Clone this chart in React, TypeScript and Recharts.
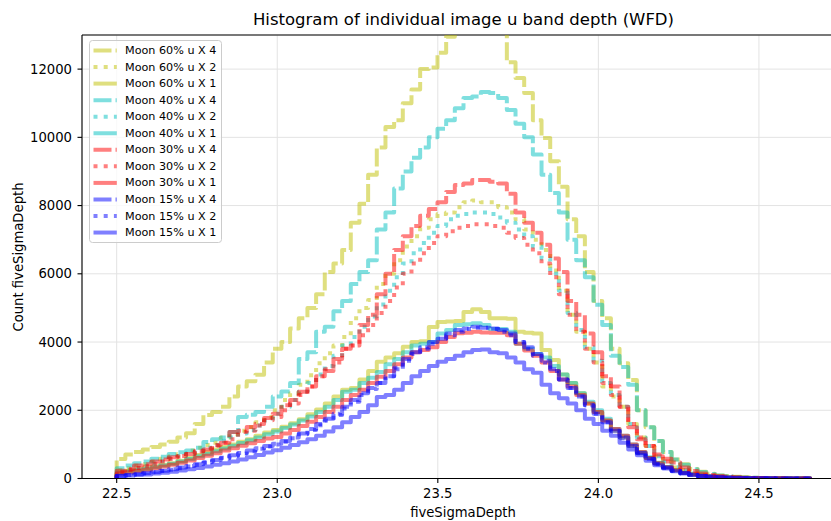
import React from 'react';
import { LineChart, Line, XAxis, YAxis, CartesianGrid, Legend, ReferenceLine } from 'recharts';

// Histogram bins (uniform)
const BIN_START = 22.5;
const BIN_WIDTH = 0.027;
const BIN_COUNT = 80;

const X_TICKS = [22.5, 23.0, 23.5, 24.0, 24.5];
const Y_TICKS = [0, 2000, 4000, 6000, 8000, 10000, 12000];

const MOON_60_X4 = [570, 700, 780, 850, 920, 1000, 1080, 1200, 1330, 1600, 1860, 1950, 2100, 2400, 2700, 2850, 3040, 3400, 3800, 4000, 4400, 4700, 5000, 5400, 6050, 6300, 6700, 7500, 8050, 8900, 9700, 10300, 10500, 11000, 11400, 12000, 12050, 12480, 12950, 13100, 13200, 13250, 13250, 13200, 13100, 12200, 11740, 11300, 10500, 9980, 9300, 8550, 7600, 7100, 6050, 5200, 4700, 3800, 3380, 2890, 2000, 1500, 1100, 780, 560, 420, 280, 200, 140, 90, 70, 50, 35, 25, 18, 12, 8, 5, 3, 1];
const MOON_60_X2 = [250, 300, 380, 420, 500, 580, 650, 720, 820, 900, 980, 1050, 1200, 1300, 1400, 1500, 1650, 1800, 2000, 2300, 2500, 2750, 3030, 3380, 3670, 3900, 4150, 4700, 5000, 5230, 5700, 6000, 6400, 6800, 7100, 7350, 7600, 7750, 7800, 7950, 8100, 8150, 8100, 8100, 7950, 7800, 7600, 7300, 7000, 6700, 6100, 5500, 4800, 4300, 3800, 3400, 2700, 2400, 2100, 1600, 1200, 950, 650, 500, 320, 250, 150, 110, 80, 55, 40, 30, 20, 15, 10, 7, 5, 3, 2, 1];
const MOON_60_X1 = [180, 230, 260, 300, 350, 400, 450, 520, 600, 690, 760, 850, 920, 1000, 1080, 1150, 1250, 1350, 1420, 1520, 1620, 1740, 1880, 2020, 2200, 2400, 2600, 2650, 2900, 3150, 3420, 3550, 3670, 3860, 4000, 4020, 4440, 4590, 4600, 4620, 4880, 4960, 4880, 4700, 4700, 4680, 4300, 4270, 4250, 3770, 3470, 3050, 2800, 2500, 2200, 1950, 1700, 1400, 1200, 950, 750, 600, 450, 330, 240, 170, 120, 80, 55, 40, 28, 20, 14, 10, 7, 5, 3, 2, 1, 1];
const MOON_40_X4 = [300, 380, 450, 500, 580, 640, 720, 770, 820, 900, 1070, 1150, 1200, 1360, 1800, 1870, 1950, 2100, 2400, 2550, 2800, 3500, 3700, 4300, 4450, 4900, 5200, 5700, 6050, 6400, 7300, 7800, 8500, 9000, 9400, 9700, 10000, 10250, 10500, 10850, 11150, 11200, 11330, 11300, 11150, 10800, 10400, 10000, 9500, 8900, 8370, 7800, 7000, 6400, 5900, 5090, 4500, 3600, 3270, 2750, 2000, 1500, 1100, 780, 560, 400, 270, 190, 130, 85, 65, 45, 30, 22, 15, 10, 7, 4, 2, 1];
const MOON_40_X2 = [200, 260, 320, 380, 450, 520, 590, 660, 740, 820, 900, 980, 1100, 1200, 1320, 1420, 1550, 1700, 1900, 2100, 2300, 2550, 2800, 3050, 3300, 3600, 3900, 4150, 4450, 4750, 5100, 5500, 5900, 6300, 6600, 6900, 7200, 7400, 7600, 7700, 7750, 7800, 7800, 7750, 7650, 7500, 7300, 7100, 6800, 6450, 6000, 5500, 4850, 4350, 3850, 3450, 2800, 2450, 2100, 1600, 1200, 950, 650, 500, 330, 240, 150, 100, 75, 50, 35, 25, 18, 12, 9, 6, 4, 3, 2, 1];
const MOON_40_X1 = [160, 200, 240, 280, 330, 380, 430, 500, 570, 650, 720, 800, 880, 960, 1040, 1120, 1200, 1300, 1380, 1480, 1580, 1700, 1820, 1950, 2100, 2300, 2540, 2600, 2800, 2950, 3120, 3350, 3500, 3700, 3900, 3950, 4000, 4250, 4350, 4500, 4520, 4550, 4500, 4380, 4380, 4300, 3950, 3800, 3650, 3550, 3300, 3050, 2800, 2500, 2250, 2000, 1750, 1450, 1250, 1000, 780, 620, 460, 340, 240, 170, 120, 80, 55, 40, 28, 20, 14, 10, 7, 5, 3, 2, 1, 1];
const MOON_30_X4 = [230, 280, 380, 420, 500, 560, 620, 660, 720, 790, 850, 980, 1050, 1360, 1400, 1510, 1600, 1770, 1900, 2150, 2300, 2540, 2700, 3000, 3150, 3500, 3800, 3900, 4500, 4800, 5400, 6000, 6700, 7100, 7400, 7700, 7900, 8100, 8400, 8600, 8650, 8750, 8750, 8700, 8650, 8350, 7800, 7500, 7200, 6850, 6450, 6050, 5200, 4800, 4250, 3700, 3000, 2700, 2100, 1500, 1150, 950, 700, 580, 470, 320, 220, 150, 100, 70, 50, 35, 25, 18, 12, 8, 5, 3, 2, 1];
const MOON_30_X2 = [190, 250, 310, 360, 420, 500, 570, 640, 720, 800, 880, 960, 1050, 1150, 1360, 1400, 1550, 1710, 1800, 2000, 2200, 2450, 2700, 3000, 3200, 3400, 3800, 3900, 4200, 4500, 4850, 5200, 5600, 6000, 6300, 6600, 6900, 7100, 7250, 7350, 7400, 7450, 7450, 7400, 7350, 7200, 7050, 6850, 6600, 6300, 5900, 5400, 4800, 4300, 3800, 3400, 2800, 2450, 2100, 1600, 1200, 950, 650, 500, 320, 240, 150, 100, 70, 50, 35, 25, 18, 12, 9, 6, 4, 3, 2, 1];
const MOON_30_X1 = [150, 180, 220, 260, 300, 350, 400, 460, 530, 600, 670, 740, 820, 890, 960, 1030, 1100, 1170, 1220, 1320, 1420, 1540, 1660, 1800, 1950, 2100, 2300, 2450, 2600, 2800, 2980, 3150, 3350, 3550, 3700, 3770, 3850, 4000, 4150, 4260, 4270, 4300, 4280, 4270, 4270, 4200, 3950, 3750, 3600, 3400, 3150, 2900, 2700, 2450, 2200, 1950, 1700, 1450, 1250, 1000, 780, 600, 450, 330, 240, 170, 120, 80, 55, 38, 27, 19, 13, 9, 6, 4, 3, 2, 1, 1];
const MOON_15_X4 = [80, 100, 130, 160, 190, 230, 270, 320, 370, 420, 480, 540, 610, 680, 750, 820, 890, 950, 1020, 1100, 1200, 1320, 1450, 1600, 1750, 1900, 2100, 2300, 2500, 2650, 2800, 3000, 3200, 3500, 3700, 3850, 4000, 4100, 4250, 4350, 4400, 4450, 4420, 4400, 4350, 4250, 4000, 3850, 3650, 3450, 3200, 2900, 2650, 2400, 2150, 1900, 1650, 1400, 1200, 950, 750, 580, 430, 320, 230, 160, 110, 75, 50, 35, 25, 18, 12, 8, 6, 4, 3, 2, 1, 1];
const MOON_15_X2 = [70, 90, 120, 150, 180, 220, 260, 300, 350, 400, 460, 520, 590, 660, 730, 800, 870, 940, 1000, 1080, 1180, 1300, 1420, 1560, 1700, 1860, 2050, 2250, 2450, 2620, 2800, 3000, 3250, 3450, 3650, 3800, 3950, 4100, 4200, 4300, 4380, 4420, 4420, 4380, 4300, 4200, 4000, 3800, 3600, 3400, 3150, 2900, 2650, 2400, 2150, 1900, 1650, 1400, 1180, 950, 740, 570, 420, 310, 220, 150, 105, 70, 48, 33, 23, 16, 11, 8, 5, 4, 3, 2, 1, 1];
const MOON_15_X1 = [70, 85, 100, 120, 145, 170, 200, 235, 270, 310, 350, 400, 450, 500, 560, 620, 690, 760, 830, 900, 980, 1060, 1150, 1250, 1380, 1500, 1650, 1800, 1950, 2150, 2390, 2450, 2600, 2800, 3000, 3150, 3300, 3420, 3500, 3600, 3700, 3770, 3780, 3700, 3670, 3550, 3400, 3200, 3100, 2750, 2500, 2350, 2200, 2000, 1750, 1600, 1400, 1250, 1050, 850, 680, 520, 390, 290, 210, 150, 100, 70, 48, 33, 22, 15, 10, 7, 5, 3, 2, 1, 1, 0];

const SERIES = [
  { key: 'm60x4', name: 'Moon 60% u X 4', color: '#bfbf00', dash: '18 4', values: MOON_60_X4 },
  { key: 'm60x2', name: 'Moon 60% u X 2', color: '#bfbf00', dash: '4 6.2', values: MOON_60_X2 },
  { key: 'm60x1', name: 'Moon 60% u X 1', color: '#bfbf00', dash: undefined, values: MOON_60_X1 },
  { key: 'm40x4', name: 'Moon 40% u X 4', color: '#00bfbf', dash: '18 4', values: MOON_40_X4 },
  { key: 'm40x2', name: 'Moon 40% u X 2', color: '#00bfbf', dash: '4 6.2', values: MOON_40_X2 },
  { key: 'm40x1', name: 'Moon 40% u X 1', color: '#00bfbf', dash: undefined, values: MOON_40_X1 },
  { key: 'm30x4', name: 'Moon 30% u X 4', color: '#ff0000', dash: '18 4', values: MOON_30_X4 },
  { key: 'm30x2', name: 'Moon 30% u X 2', color: '#ff0000', dash: '4 6.2', values: MOON_30_X2 },
  { key: 'm30x1', name: 'Moon 30% u X 1', color: '#ff0000', dash: undefined, values: MOON_30_X1 },
  { key: 'm15x4', name: 'Moon 15% u X 4', color: '#0000ff', dash: '18 4', values: MOON_15_X4 },
  { key: 'm15x2', name: 'Moon 15% u X 2', color: '#0000ff', dash: '4 6.2', values: MOON_15_X2 },
  { key: 'm15x1', name: 'Moon 15% u X 1', color: '#0000ff', dash: undefined, values: MOON_15_X1 },
];

// Build step-outline rows: (edge0,0) -> bins -> (edgeN, last) -> (edgeN, 0)
const edge = (i: number) => +(BIN_START + i * BIN_WIDTH).toFixed(4);
const rows: Record<string, number>[] = [];
{
  const start: Record<string, number> = { x: edge(0) };
  SERIES.forEach((s) => (start[s.key] = 0));
  rows.push(start);
  for (let i = 0; i < BIN_COUNT; i++) {
    const r: Record<string, number> = { x: edge(i) };
    SERIES.forEach((s) => (r[s.key] = s.values[i]));
    rows.push(r);
  }
  const endTop: Record<string, number> = { x: edge(BIN_COUNT) };
  SERIES.forEach((s) => (endTop[s.key] = s.values[BIN_COUNT - 1]));
  rows.push(endTop);
  const endBottom: Record<string, number> = { x: edge(BIN_COUNT) };
  SERIES.forEach((s) => (endBottom[s.key] = 0));
  rows.push(endBottom);
}

const FONT = 'DejaVu Sans, sans-serif';

const renderLegend = () => (
  <svg width={134} height={204} style={{ display: 'block' }}>
    <rect x={0.5} y={0.5} width={132} height={202} rx={3} ry={3} fill="#ffffff" fillOpacity={0.8} stroke="#cccccc" strokeWidth={1} />
    {SERIES.map((s, k) => {
      const cy = 10.5 + k * 16.55;
      return (
        <g key={s.key}>
          <line x1={4.5} y1={cy} x2={27.8} y2={cy} stroke={s.color} strokeOpacity={0.5} strokeWidth={4} strokeDasharray={s.dash} />
          <text x={36} y={cy} dominantBaseline="central" fontSize={11.2} fontFamily={FONT} fill="#000">
            {s.name}
          </text>
        </g>
      );
    })}
  </svg>
);

export default function App() {
  return (
    <div style={{ position: 'absolute', left: 0, top: 0, width: 831, height: 521, overflow: 'hidden', background: '#ffffff', fontFamily: FONT }}>
      <div style={{ position: 'absolute', left: 82, top: 9, width: 763, textAlign: 'center', fontSize: 16.5, lineHeight: '22px', color: '#000' }}>
        Histogram of individual image u band depth (WFD)
      </div>
      <div style={{ position: 'absolute', left: 0, top: 0 }}>
        <LineChart width={860} height={521} data={rows} margin={{ top: 35, right: 15, bottom: 0, left: 0 }}>
          <CartesianGrid stroke="#e3e3e3" strokeWidth={1} />
          <XAxis
            dataKey="x"
            type="number"
            domain={[22.392, 24.768]}
            allowDataOverflow
            ticks={X_TICKS}
            tickFormatter={(v: number) => v.toFixed(1)}
            height={42.5}
            tickSize={4.5}
            tickMargin={6}
            stroke="#000"
            tick={{ fill: '#000', fontSize: 13.2, fontFamily: FONT }}
            axisLine={{ stroke: '#000', strokeWidth: 1.1 }}
            tickLine={{ stroke: '#000', strokeWidth: 1.1 }}
            label={{
              content: () => (
                <text x={463} y={516.5} textAnchor="middle" fontSize={13.2} fontFamily={FONT} fill="#000">
                  fiveSigmaDepth
                </text>
              ),
            }}
          />
          <YAxis
            type="number"
            domain={[0, 13000]}
            allowDataOverflow
            ticks={Y_TICKS}
            width={82}
            tickSize={4.5}
            tickMargin={5.5}
            stroke="#000"
            tick={{ fill: '#000', fontSize: 13.2, fontFamily: FONT }}
            axisLine={{ stroke: '#000', strokeWidth: 1.1 }}
            tickLine={{ stroke: '#000', strokeWidth: 1.1 }}
            label={{
              content: () => (
                <text x={22.5} y={257} transform="rotate(-90 22.5 257)" textAnchor="middle" fontSize={13.2} fontFamily={FONT} fill="#000">
                  Count fiveSigmaDepth
                </text>
              ),
            }}
          />
          <ReferenceLine y={13000} stroke="#000" strokeWidth={1.1} ifOverflow="extendDomain" />
          {SERIES.map((s) => (
            <Line
              key={s.key}
              dataKey={s.key}
              name={s.name}
              type="stepAfter"
              stroke={s.color}
              strokeOpacity={0.5}
              strokeWidth={4}
              strokeDasharray={s.dash}
              strokeLinejoin="round"
              dot={false}
              activeDot={false}
              isAnimationActive={false}
            />
          ))}
          <Legend
            layout="vertical"
            align="center"
            verticalAlign="middle"
            content={renderLegend}
            wrapperStyle={{ position: 'absolute', left: 88.5, top: 39.5, width: 134, height: 204, margin: 0, padding: 0 }}
          />
        </LineChart>
      </div>
    </div>
  );
}
